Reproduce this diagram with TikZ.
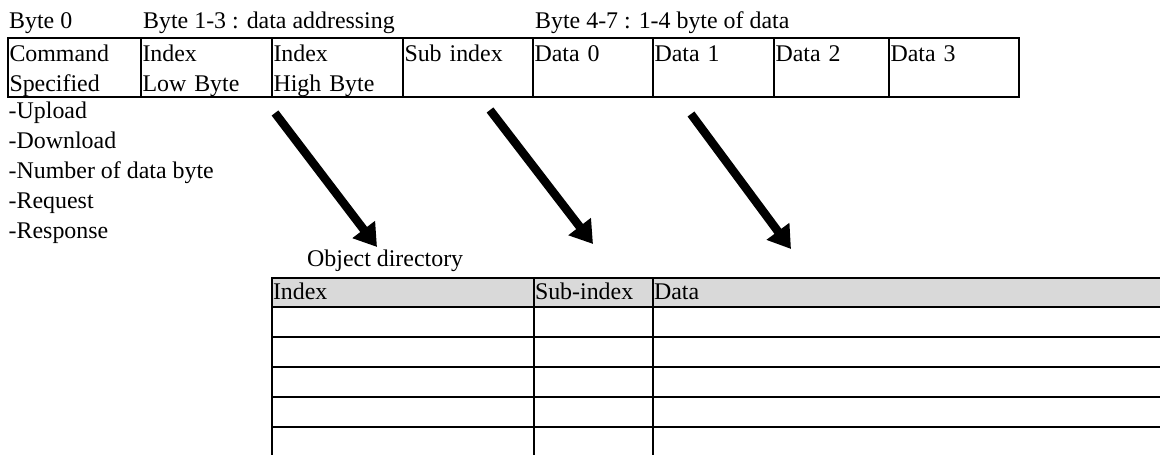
\documentclass[tikz,border=0pt]{standalone}
\usepackage{fontspec}
\setmainfont{Liberation Serif}
\usetikzlibrary{positioning,arrows.meta}

\tikzset{
  bytecell/.style={rectangle, draw=black, line width=2pt, outer sep=0pt, inner xsep=1.5pt, inner ysep=0pt, minimum height=59pt, text width=#1, text height=19.5pt, text depth=32.5pt, align=left},
  odcell/.style={rectangle, draw=black, line width=2.2pt, outer sep=0pt, inner xsep=1pt, inner ysep=0pt, minimum height=30pt, text width=#1, text height=18pt, text depth=4pt, align=left},
  odhead/.style={odcell=#1, fill=black!15, minimum height=29pt},
  lbl/.style={anchor=base west, inner sep=0pt},
  bigarrow/.style={line width=8.5pt, -{Triangle[length=22pt, width=27pt]}}
}

\begin{document}
\begin{tikzpicture}[x=1pt, y=-1pt, every node/.style={font=\fontsize{23.9}{30}\selectfont}]
  \useasboundingbox (0,0) rectangle (1160,455);

  % message bytes
  \node[bytecell=130pt, anchor=north west] (cmd) at (8,38) {Command\\Specified};
  \node[bytecell=128pt, right=0pt of cmd] (idxlo) {Index\\Low Byte};
  \node[bytecell=128pt, right=0pt of idxlo] (idxhi) {Index\\High Byte};
  \node[bytecell=127pt, right=0pt of idxhi] (subidx) {Sub index};
  \node[bytecell=117pt, right=0pt of subidx] (data0) {Data 0};
  \node[bytecell=118pt, right=0pt of data0] (data1) {Data 1};
  \node[bytecell=112pt, right=0pt of data1] (data2) {Data 2};
  \node[bytecell=127pt, right=0pt of data2] (data3) {Data 3};

  \node[lbl] (byte0) at (9,28) {Byte 0};
  \node[lbl] (addr) at (143,28) {Byte 1-3 : data addressing};
  \node[lbl] (payload) at (535,28) {Byte 4-7 : 1-4 byte of data};

  \foreach \txt [count=\i] in {Upload, Download, Number of data byte, Request, Response}
    \node[lbl] (op\i) at (8.5,88+30*\i) {-\txt};

  % object directory
  \node[lbl] (objdir) at (307,266) {Object directory};
  \node[odhead=260pt, anchor=north west] (idx0) at (272,278) {Index};
  \node[odhead=117pt, right=0pt of idx0] (sub0) {Sub-index};
  \node[odhead=515pt, right=0pt of sub0] (dat0) {Data};
  \foreach \r [remember=\r as \p (initially 0)] in {1,...,6} {
    \node[odcell=260pt, below=0pt of idx\p] (idx\r) {};
    \node[odcell=117pt, right=0pt of idx\r] (sub\r) {};
    \node[odcell=515pt, right=0pt of sub\r] (dat\r) {};
  }

  \coordinate (hifrom) at (275,113);
  \coordinate (hito) at (377,247);
  \coordinate (subfrom) at (490,110);
  \coordinate (subto) at (593,244);
  \coordinate (datfrom) at (691,114);
  \coordinate (datto) at (791,249);
  \draw[bigarrow] (hifrom) -- (hito);
  \draw[bigarrow] (subfrom) -- (subto);
  \draw[bigarrow] (datfrom) -- (datto);
\end{tikzpicture}
\end{document}
